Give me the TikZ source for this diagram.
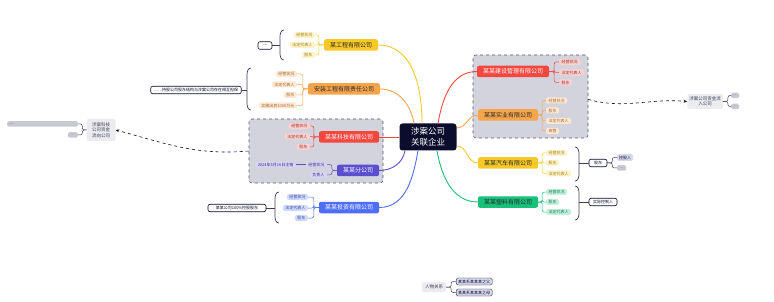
\documentclass[tikz,border=0pt]{standalone}
\usepackage{fontspec}
\newfontfamily\zhfont{Noto Sans CJK SC}
\usetikzlibrary{arrows.meta}
\definecolor{HubNavy}{RGB}{12,12,44}
\definecolor{MapYellow}{RGB}{247,201,40}
\definecolor{MapOrange}{RGB}{247,165,75}
\definecolor{MapRed}{RGB}{244,71,62}
\definecolor{MapPurple}{RGB}{91,79,207}
\definecolor{MapBlue}{RGB}{79,110,247}
\definecolor{MapGreen}{RGB}{23,193,122}
\definecolor{GroupGray}{RGB}{211,211,222}
\definecolor{NoteGray}{RGB}{235,235,240}
\definecolor{StubGray}{RGB}{200,200,210}
\definecolor{PairLav}{RGB}{216,216,238}
\tikzset{
  hub/.style={fill=HubNavy,text=white,rounded corners=3pt,align=center,
    minimum width=57pt,minimum height=27pt,inner sep=0pt,
    font=\zhfont\fontsize{8.5}{10.5}\selectfont},
  branch/.style={fill=#1,text=white,rounded corners=2pt,inner xsep=6pt,inner ysep=0pt,
    minimum height=11.5pt,font=\zhfont\fontsize{6}{7}\selectfont},
  leaf/.style={fill=#1!25,text=#1!65!black,rounded corners=1.5pt,inner xsep=2.5pt,
    inner ysep=0pt,minimum height=6pt,font=\zhfont\fontsize{4}{5}\selectfont},
  memo/.style={draw=HubNavy,line width=0.6pt,fill=white,text=HubNavy,rounded corners=2pt,
    inner xsep=3pt,inner ysep=0pt,minimum height=7.5pt,font=\zhfont\fontsize{4}{5}\selectfont},
  note/.style={fill=NoteGray,text=HubNavy!80,rounded corners=2pt,align=center,inner sep=2pt,
    font=\zhfont\fontsize{4.5}{5.5}\selectfont},
  stub/.style={fill=StubGray,text=HubNavy!60,rounded corners=1.5pt,inner sep=0pt,
    minimum height=5.5pt,font=\zhfont\fontsize{3}{3.5}\selectfont},
  pair/.style={fill=PairLav,text=HubNavy,rounded corners=1.5pt,inner xsep=2pt,inner ysep=0pt,
    minimum height=7pt,font=\zhfont\fontsize{4}{5}\selectfont},
  grp/.style={draw=HubNavy!70,fill=GroupGray,dashed,line width=0.6pt,rounded corners=3pt},
  limb/.style={draw=#1,line width=0.9pt},
  twig/.style={draw=#1,line width=0.5pt,rounded corners=2pt},
  brace/.style={draw=HubNavy!80,line width=0.7pt},
  link/.style={draw=HubNavy,line width=0.6pt,dashed,-{Stealth[length=3.5pt,width=3pt]}},
}

\begin{document}
\begin{tikzpicture}[x=1pt,y=-1pt]
\useasboundingbox (0,0) rectangle (774,302);
% dashed group frames
\node[grp,minimum width=134pt,minimum height=64pt] (grpL) at (316,151) {};
\node[grp,minimum width=115pt,minimum height=83pt] (grpR) at (530.5,96.5) {};
% centre
\node[hub] (hub) at (428,137) {涉案公司\\关联企业};
% left side companies
\node[branch=MapYellow,text=black!85] (gc) at (351,45) {某工程有限公司};
\node[branch=MapOrange,text=black!85] (az) at (344,89) {安装工程有限责任公司};
\node[branch=MapRed] (kj) at (349,137) {某某科技有限公司};
\node[branch=MapPurple] (fg) at (358,170.5) {某某分公司};
\node[branch=MapBlue] (tz) at (349,207.5) {某某投资有限公司};
% right side companies
\node[branch=MapRed] (js) at (513,71.5) {某某建设管理有限公司};
\node[branch=MapOrange,text=black!85] (sy) at (508,115) {某某实业有限公司};
\node[branch=MapYellow,text=black!85] (qc) at (508,163) {某某汽车有限公司};
\node[branch=MapGreen,text=black!85] (sl) at (508,202) {某某塑料有限公司};
% leaves, left
\node[leaf=MapYellow,anchor=east] (gc1) at (315,35) {经营状况};
\node[leaf=MapYellow,anchor=east] (gc2) at (315,45) {法定代表人};
\node[leaf=MapYellow,anchor=east] (gc3) at (315,55) {股东};
\node[leaf=MapOrange,anchor=east] (az1) at (297,74) {经营状况};
\node[leaf=MapOrange,anchor=east] (az2) at (297,84.5) {法定代表人};
\node[leaf=MapOrange,anchor=east] (az3) at (297,95) {股东};
\node[leaf=MapOrange,anchor=east] (az4) at (297,105.5) {实缴出资1000万元};
\node[leaf=MapRed,anchor=east] (kj1) at (310,126) {经营状况};
\node[leaf=MapRed,anchor=east] (kj2) at (310,136.5) {法定代表人};
\node[leaf=MapRed,anchor=east] (kj3) at (310,147) {股东};
\node[leaf=MapPurple,anchor=east] (fg1) at (327,164.5) {经营状况};
\node[leaf=MapPurple,anchor=east] (fg2) at (327,175) {负责人};
\node[leaf=MapPurple,anchor=east] (fg0) at (296,164.5) {2024年5月16日注销};
\node[leaf=MapBlue,anchor=east] (tz1) at (308,197) {经营状况};
\node[leaf=MapBlue,anchor=east] (tz2) at (308,208) {法定代表人};
\node[leaf=MapBlue,anchor=east] (tz3) at (308,218) {股东};
% leaves, right
\node[leaf=MapRed,anchor=west] (js1) at (559,62) {经营状况};
\node[leaf=MapRed,anchor=west] (js2) at (559,72.5) {法定代表人};
\node[leaf=MapRed,anchor=west] (js3) at (559,82.5) {股东};
\node[leaf=MapOrange,anchor=west] (sy1) at (546,100.5) {经营状况};
\node[leaf=MapOrange,anchor=west] (sy2) at (546,110.5) {股东};
\node[leaf=MapOrange,anchor=west] (sy3) at (546,121) {法定代表人};
\node[leaf=MapOrange,anchor=west] (sy4) at (546,131) {高管};
\node[leaf=MapYellow,anchor=west] (qc1) at (546,153) {经营状况};
\node[leaf=MapYellow,anchor=west] (qc2) at (546,163) {股东};
\node[leaf=MapYellow,anchor=west] (qc3) at (546,173.5) {法定代表人};
\node[leaf=MapGreen,anchor=west] (sl1) at (546,192) {经营状况};
\node[leaf=MapGreen,anchor=west] (sl2) at (546,202) {股东};
\node[leaf=MapGreen,anchor=west] (sl3) at (546,212) {法定代表人};
% summaries
\node[memo,minimum width=14pt] (gcm) at (265,45.5) {—};
\node[memo] (azm) at (196,90) {……持股公司股东结构与涉案公司存在相互担保};
\node[memo,minimum width=58pt] (tzm) at (237,208) {某某公司100\%控股股东};
\node[memo,minimum width=18pt] (qcm) at (598,163) {股东};
\node[pair,anchor=west] (qcm1) at (617,157.5) {控股人};
\node[stub,anchor=west,minimum width=9pt] (qcm2) at (617,168) {—};
\node[memo,minimum width=28pt] (slm) at (603,202) {实际控制人};
% notes
\node[note,minimum width=29pt,minimum height=22pt] (noteL) at (101,130) {涉案科技\\公司资金\\流向公司};
\node[stub,anchor=west,minimum width=71pt,text width=67pt,align=left] (barL) at (7,124) {——};
\node[stub,anchor=east,minimum width=10pt] (stubL) at (78,135) {—};
\node[note,minimum width=32pt,minimum height=15pt] (noteR) at (705,101.5) {涉案公司资金流\\入公司};
\node[stub,anchor=west,minimum width=8pt] (stubR1) at (731,95.5) {—};
\node[stub,anchor=west,minimum width=8pt] (stubR2) at (731,106.5) {—};
\node[note,minimum width=24pt,minimum height=10pt] (rel) at (434,287) {人物关系};
\node[pair,draw=HubNavy,line width=0.4pt,anchor=west,minimum width=35pt] (rel1) at (456,281.5) {某某系某某某之父};
\node[pair,draw=HubNavy,line width=0.4pt,anchor=west,minimum width=35pt] (rel2) at (456,292.5) {某某系某某某之母};
% centre to companies
\draw[limb=MapYellow] ([xshift=-6pt]hub.north) to[out=90,in=0] (gc.east);
\draw[limb=MapOrange] ([xshift=-14pt]hub.north) to[out=100,in=0] (az.east);
\draw[limb=MapRed] (hub.west) -- (kj.east);
\draw[limb=MapPurple] ([xshift=-23pt]hub.south) to[out=-100,in=0] (fg.east);
\draw[limb=MapBlue] ([xshift=-10pt]hub.south) to[out=-100,in=0] (tz.east);
\draw[limb=MapRed] ([xshift=10pt]hub.north) to[out=80,in=180] (js.west);
\draw[limb=MapOrange] ([yshift=9pt]hub.east) to[out=0,in=180] (sy.west);
\draw[limb=MapYellow] ([yshift=-9pt]hub.east) to[out=0,in=180] (qc.west);
\draw[limb=MapGreen] ([xshift=9pt]hub.south) to[out=-80,in=180] (sl.west);
% companies to leaves
\foreach \k in {1,2,3} \draw[twig=MapYellow] (gc.west) -- ++(-5,0) |- (gc\k.east);
\foreach \k in {1,2,3,4} \draw[twig=MapOrange] (az.west) -- ++(-5,0) |- (az\k.east);
\foreach \k in {1,2,3} \draw[twig=MapRed] (kj.west) -- ++(-5,0) |- (kj\k.east);
\foreach \k in {1,2} \draw[twig=MapPurple] (fg.west) -- ++(-5,0) |- (fg\k.east);
\draw[twig=MapPurple] (fg1.west) -- (fg0.east);
\foreach \k in {1,2,3} \draw[twig=MapBlue] (tz.west) -- ++(-5,0) |- (tz\k.east);
\foreach \k in {1,2,3} \draw[twig=MapRed] (js.east) -- ++(5,0) |- (js\k.west);
\foreach \k in {1,2,3,4} \draw[twig=MapOrange] (sy.east) -- ++(4,0) |- (sy\k.west);
\foreach \k in {1,2,3} \draw[twig=MapYellow] (qc.east) -- ++(4,0) |- (qc\k.west);
\foreach \k in {1,2,3} \draw[twig=MapGreen] (sl.east) -- ++(4,0) |- (sl\k.west);
% brackets
\coordinate (gcb) at (280,45.5);
\draw[brace] (284,30) to[out=180,in=90] (280,37) -- (280,53) to[out=-90,in=180] (284,60);
\draw[brace] (gcb) -- (gcm.east);
\coordinate (azb) at (247,90);
\draw[brace] (251,68) to[out=180,in=90] (247,75) -- (247,103) to[out=-90,in=180] (251,110);
\draw[brace] (azb) -- (azm.east);
\coordinate (tzb) at (275,208);
\draw[brace] (279,192) to[out=180,in=90] (275,199) -- (275,216) to[out=-90,in=180] (279,223);
\draw[brace] (tzb) -- (tzm.east);
\coordinate (qcb) at (579,163);
\draw[brace] (575,147) to[out=0,in=90] (579,154) -- (579,174) to[out=-90,in=0] (575,181);
\draw[brace] (qcb) -- (qcm.west);
\coordinate (slb) at (579,202);
\draw[brace] (575,186) to[out=0,in=90] (579,193) -- (579,213) to[out=-90,in=0] (575,220);
\draw[brace] (slb) -- (slm.west);
% small combs
\draw[twig=HubNavy!80] (qcm.east) -- ++(5,0) |- (qcm1.west);
\draw[twig=HubNavy!80] (qcm.east) -- ++(5,0) |- (qcm2.west);
\draw[twig=HubNavy!80] (noteL.west) -- ++(-4,0) |- (barL.east);
\draw[twig=HubNavy!80] (noteL.west) -- ++(-4,0) |- (stubL.east);
\draw[twig=HubNavy!80] (noteR.east) -- ++(5,0) |- (stubR1.west);
\draw[twig=HubNavy!80] (noteR.east) -- ++(5,0) |- (stubR2.west);
\draw[twig=HubNavy!80] (rel.east) -- ++(5,0) |- (rel1.west);
\draw[twig=HubNavy!80] (rel.east) -- ++(5,0) |- (rel2.west);
% dashed links to notes
\draw[link] (grpL.west) to[out=185,in=-15] (noteL.east);
\draw[link] ([yshift=-3pt]grpR.east) to[out=-15,in=175] (noteR.west);
\end{tikzpicture}
\end{document}
